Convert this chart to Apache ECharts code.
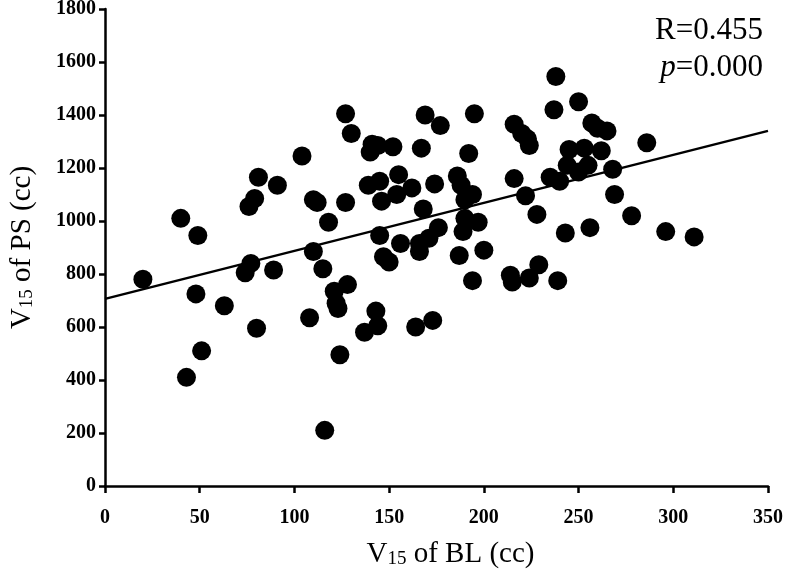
<!DOCTYPE html>
<html>
<head>
<meta charset="utf-8">
<script src="https://cdn.jsdelivr.net/npm/echarts@6/dist/echarts.min.js"></script>
<style>
  html, body { margin: 0; padding: 0; background: #fff; }
  #main { width: 787px; height: 576px; }
</style>
</head>
<body>
<div id="main"></div>
<script>
// V15 of BL (cc) vs V15 of PS (cc)
const xValues = [20, 40, 43, 48, 49, 51, 63, 74, 76, 77, 79, 80, 81, 89, 91, 104, 108, 110, 110, 112,
  115, 116, 118, 121, 122, 123, 124, 127, 127, 128, 130, 137, 139, 140, 141, 143, 144, 144, 145, 145,
  146, 147, 150, 152, 154, 155, 156, 162, 164, 166, 166, 167, 168, 169, 171, 173, 174, 176, 177, 186,
  187, 188, 189, 190, 190, 192, 194, 194, 195, 197, 200, 214, 215, 216, 216, 220, 222, 223, 224, 224,
  228, 229, 235, 237, 238, 239, 240, 243, 244, 245, 250, 250, 253, 255, 256, 257, 260, 262, 265, 268,
  269, 278, 286, 296, 311];
const yValues = [780, 1010, 410, 725, 945, 510, 680, 805, 1055, 840, 1085, 595, 1165, 815, 1135, 1245, 635, 885, 1080, 1070,
  820, 210, 995, 735, 690, 670, 495, 1405, 1070, 760, 1330, 580, 1135, 1260, 1290, 660, 1285, 605, 1150, 945,
  1075, 865, 845, 1280, 1100, 1175, 915, 1125, 600, 915, 885, 1275, 1045, 1400, 935, 625, 1140, 975, 1360, 1170,
  870, 1135, 960, 1080, 1010, 1255, 1100, 775, 1405, 995, 890, 795, 770, 1365, 1160, 1330, 1095, 1310, 1285, 785,
  1025, 835, 1165, 1420, 1545, 775, 1150, 955, 1210, 1270, 1450, 1185, 1275, 1210, 975, 1370, 1350, 1265, 1340, 1195,
  1100, 1020, 1295, 960, 940];
const fitX = [0, 350];
const fitY = [706, 1340];

const chartDom = document.getElementById('main');
const myChart = echarts.init(chartDom);

const serif = '"Liberation Serif", "DejaVu Serif", serif';
const titleRich = {
  n: { fontFamily: serif, fontSize: 29, color: '#000' },
  s: { fontFamily: serif, fontSize: 19, color: '#000', padding: [10, 0, 0, 0] }
};

const option = {
  animation: false,
  grid: { left: 105, right: 19, top: 9, bottom: 90, containLabel: false, outerBoundsMode: 'none' },
  xAxis: {
    type: 'value',
    min: 0, max: 350, interval: 50,
    name: '{n|V}{s|15}{n| of BL (cc)}',
    nameLocation: 'middle',
    nameGap: 54,
    nameTextStyle: { rich: titleRich, padding: [0, 0, 0, 28] },
    splitLine: { show: false },
    axisLine: { lineStyle: { color: '#000', width: 2.5 } },
    axisTick: { inside: false, length: 7, lineStyle: { color: '#000', width: 2.5 } },
    axisLabel: {
      color: '#000', fontFamily: serif, fontWeight: 'bold', fontSize: 20, margin: 22,
      formatter: v => String(v)
    }
  },
  yAxis: {
    type: 'value',
    min: 0, max: 1800, interval: 200,
    name: '{n|V}{s|15}{n| of PS (cc)}',
    nameLocation: 'middle',
    nameGap: 68,
    nameTextStyle: { rich: titleRich },
    splitLine: { show: false },
    axisLine: { show: true, lineStyle: { color: '#000', width: 2.5 } },
    axisTick: { show: true, length: 6, lineStyle: { color: '#000', width: 2.5 } },
    axisLabel: {
      color: '#000', fontFamily: serif, fontWeight: 'bold', fontSize: 20, margin: 9,
      formatter: v => String(v)
    }
  },
  graphic: [
    {
      type: 'text', right: 24, top: 15,
      style: { text: 'R=0.455', font: '31px ' + serif, fill: '#000' }
    },
    {
      type: 'text', right: 24, top: 52,
      style: {
        text: '{i|p}{n|=0.000}',
        rich: {
          i: { font: 'italic 31px ' + serif, fill: '#000' },
          n: { font: '31px ' + serif, fill: '#000' }
        }
      }
    }
  ],
  series: [
    {
      type: 'line',
      data: fitX.map((x, i) => [x, fitY[i]]),
      symbol: 'none',
      lineStyle: { color: '#000', width: 2.5 },
      z: 1
    },
    {
      type: 'scatter',
      data: xValues.map((x, i) => [x, yValues[i]]),
      symbolSize: 19,
      itemStyle: { color: '#000', opacity: 1 },
      z: 2
    }
  ]
};

myChart.setOption(option);
</script>
</body>
</html>
